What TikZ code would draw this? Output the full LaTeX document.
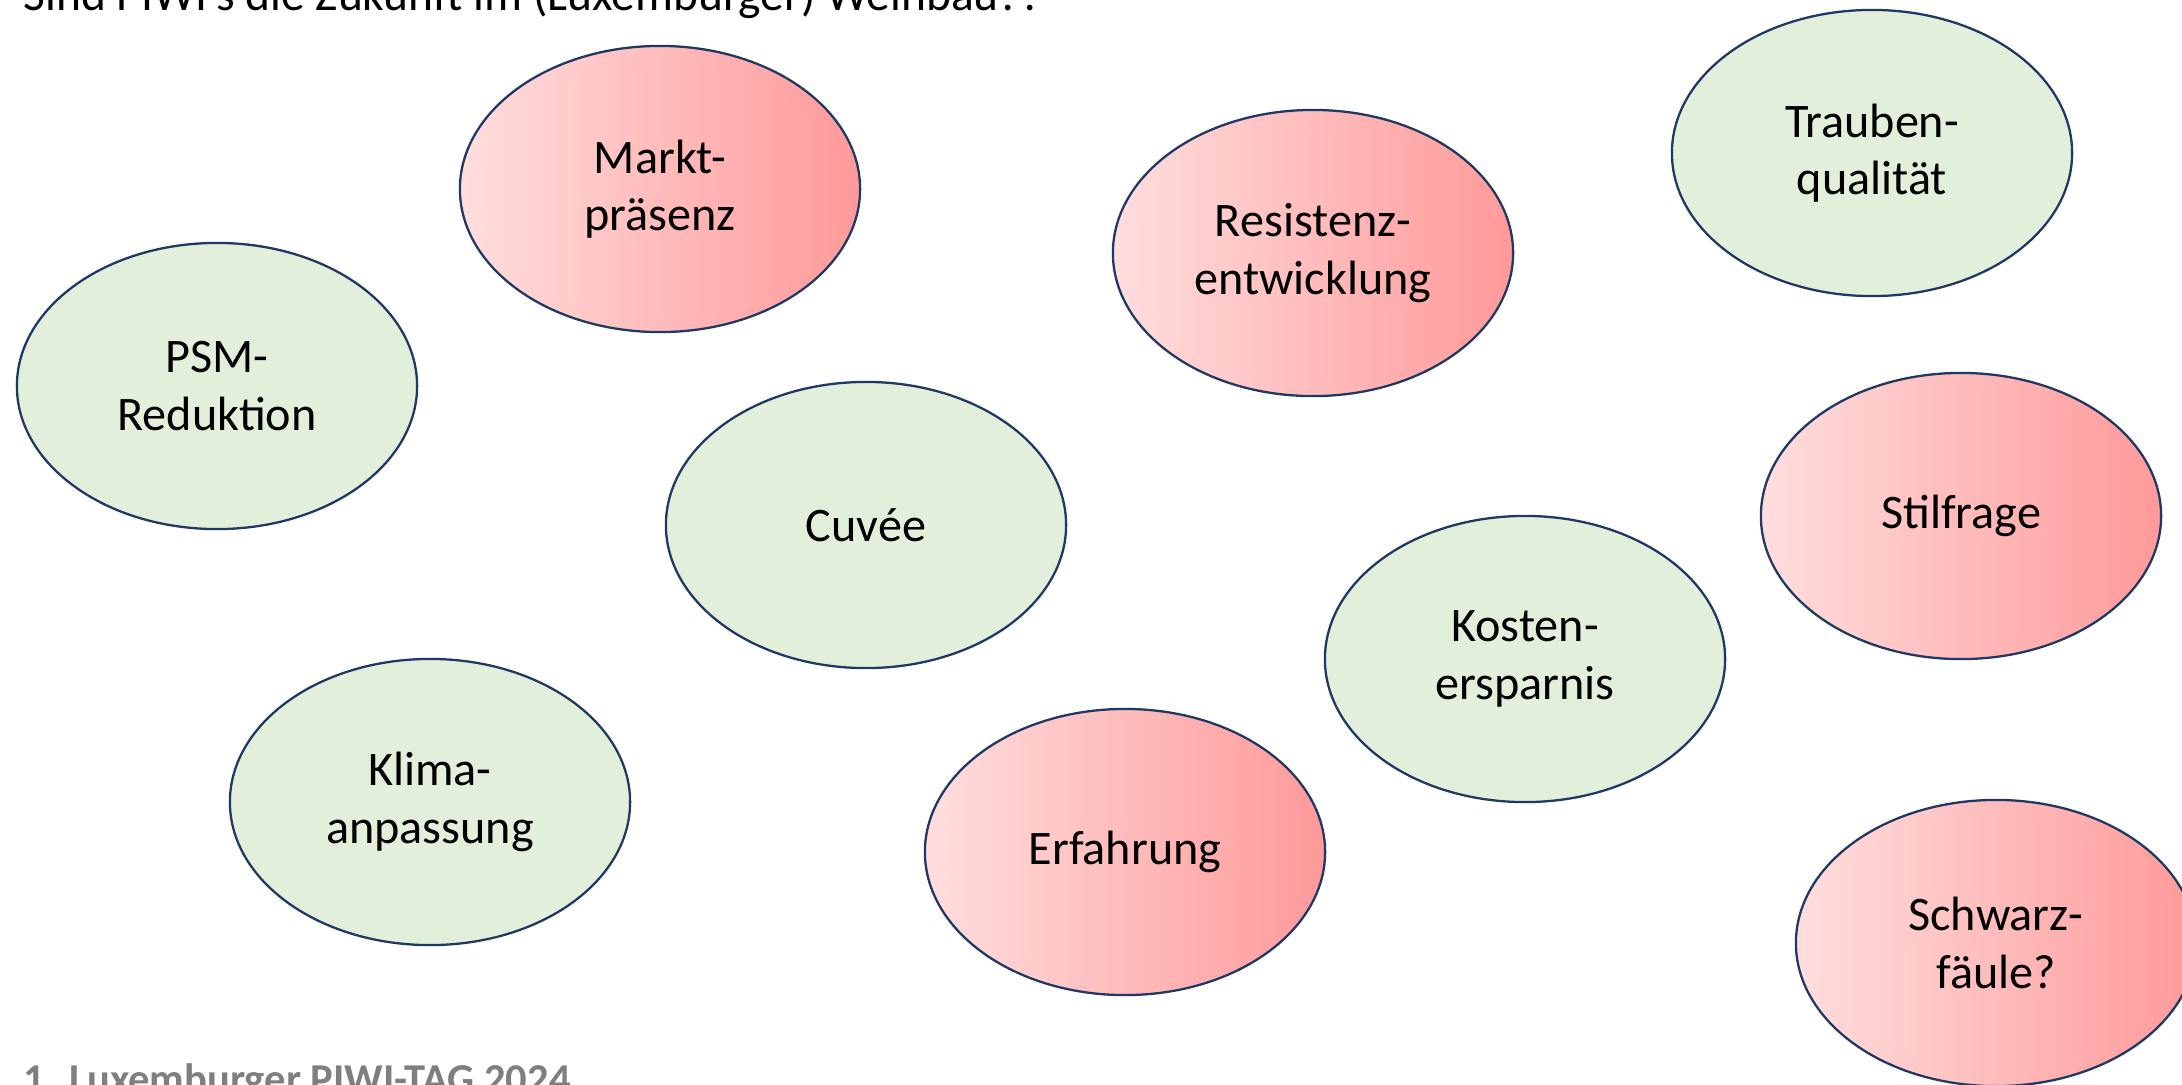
\documentclass[tikz,border=0pt]{standalone}
\usepackage{fontspec}
\setmainfont{Carlito}
\usepackage{tikz}
\usepackage{xcolor}
\usetikzlibrary{shapes.geometric}

\definecolor{rimblue}{HTML}{1F3864}
\definecolor{proGreen}{HTML}{E2EFDA}
\definecolor{conLight}{HTML}{FFDEDE}
\definecolor{conDark}{HTML}{FF9999}
\definecolor{footGray}{HTML}{7F7F7F}

\begin{document}
\begin{tikzpicture}[x=0.01cm, y=-0.01cm,
    bubble/.style={ellipse, draw=rimblue, line width=0.65pt,
      minimum width=4cm, minimum height=2.86cm, inner sep=0pt,
      align=center, font=\fontsize{13.7}{16.3}\selectfont},
    pro/.style={bubble, fill=proGreen},
    contra/.style={bubble, left color=conLight, right color=conDark}]

    \useasboundingbox (0, 0) rectangle (2182, 1084);
    \clip (0, 0) rectangle (2182, 1084);

    % Title and footer
    \node[anchor=base west, font=\fontsize{13.5}{16}\selectfont] (title) at (11, 10)
      {Sind PIWI's die Zukunft im (Luxemburger) Weinbau??};
    \node[anchor=base west, text=footGray, font=\fontsize{12.1}{14}\selectfont\bfseries] (footer) at (11, 1093)
      {1. Luxemburger PIWI-TAG 2024};

    % Green bubbles
    \node[pro] (psm) at (217, 386) {PSM-\\Reduktion};
    \node[pro] (cuvee) at (866, 525) {Cuvée};
    \node[pro] (klima) at (430, 802) {Klima-\\anpassung};
    \node[pro] (kosten) at (1525, 659) {Kosten-\\ersparnis};
    \node[pro] (trauben) at (1872, 153) {Trauben-\\qualität};

    % Red bubbles
    \node[contra] (markt) at (660, 189) {Markt-\\präsenz};
    \node[contra] (resistenz) at (1313, 253) {Resistenz-\\entwicklung};
    \node[contra] (erfahrung) at (1125, 852) {Erfahrung};
    \node[contra] (stil) at (1961, 516) {Stilfrage};
    \node[contra] (schwarz) at (1996, 943) {Schwarz-\\fäule?};

\end{tikzpicture}
\end{document}
